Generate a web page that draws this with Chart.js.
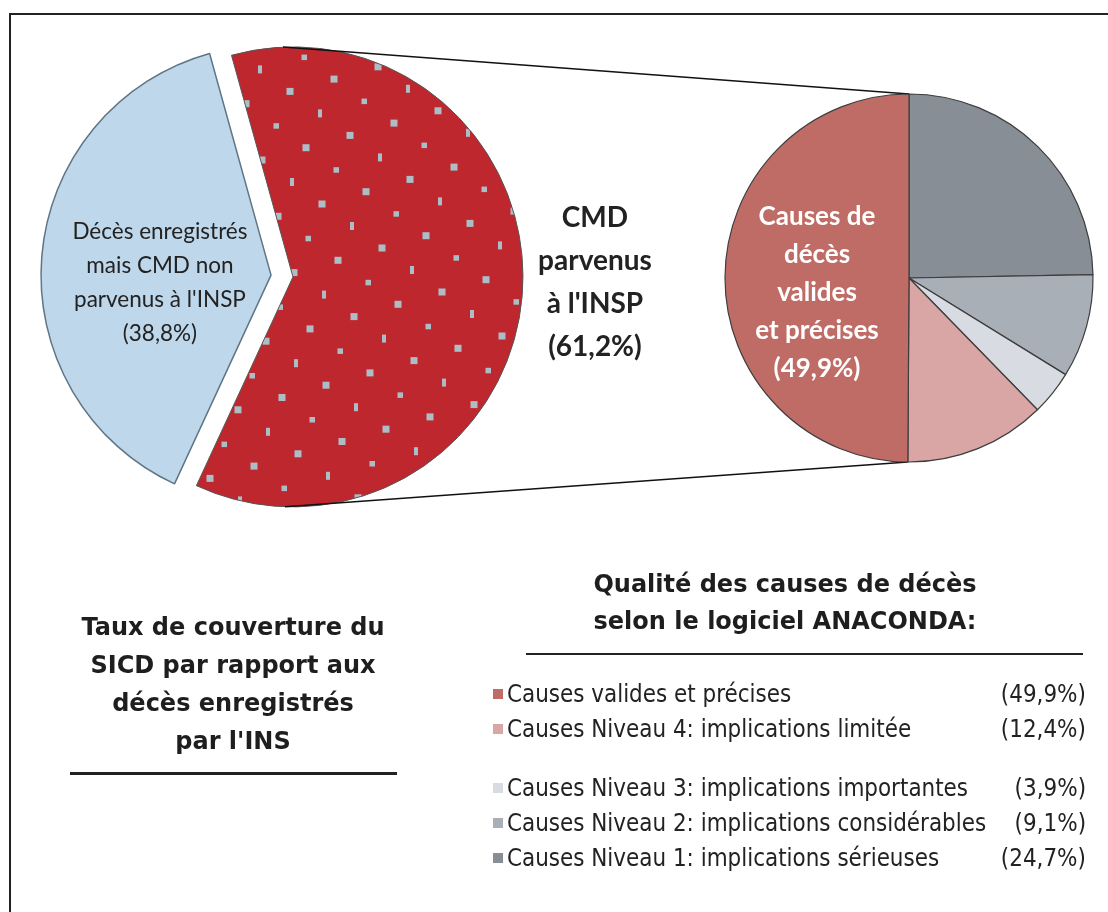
<!DOCTYPE html>
<html lang="fr">
<head>
<meta charset="utf-8">
<title>Taux de couverture du SICD et qualité des causes de décès</title>
<script src="https://cdn.jsdelivr.net/npm/chart.js@4.4.1/dist/chart.umd.min.js"></script>
<style>
  html, body { margin: 0; padding: 0; background: #fff; overflow: hidden; }
  #page { position: relative; width: 1108px; height: 912px; overflow: hidden; }
  #frame { position: absolute; left: 9px; top: 13px; width: 1200px; height: 1000px; border-top: 2px solid #222; border-left: 2px solid #222; }
  canvas { position: absolute; left: 0; top: 0; }
  .title { position: absolute; text-align: center; font-family: "DejaVu Sans"; font-weight: bold; font-size: 24px; color: #1e1e1e; white-space: nowrap; }
  #leftTitle { left: 40px; width: 386px; top: 608px; line-height: 38px; }
  #leftRule { position: absolute; left: 70px; top: 772px; width: 327px; height: 3px; background: #222; }
  #rightTitle { left: 500px; width: 570px; top: 566px; line-height: 37px; }
  #rightRule { position: absolute; left: 526px; top: 653px; width: 557px; height: 2px; background: #222; }
  #legend { position: absolute; left: 490px; top: 676px; width: 596px; font-family: "DejaVu Sans"; font-size: 25px; color: #222; }
  .row { position: relative; height: 35px; line-height: 35px; }
  .row.gap { margin-top: 24px; }
  .sw { position: absolute; left: 3px; top: 13px; width: 10px; height: 10px; }
  .lab { position: absolute; left: 17px; top: 0; white-space: nowrap; transform: scaleX(0.86); transform-origin: left center; }
  .val { position: absolute; right: 0; top: 0; white-space: nowrap; transform: scaleX(0.86); transform-origin: right center; }
</style>
</head>
<body>
<div id="page">
  <div id="frame"></div>
  <canvas id="coverage" width="1108" height="912"></canvas>
  <canvas id="quality" width="1108" height="912"></canvas>
  <div id="leftTitle" class="title">Taux de couverture du<br>SICD par rapport aux<br>décès enregistrés<br>par l'INS</div>
  <div id="leftRule"></div>
  <div id="rightTitle" class="title">Qualité des causes de décès<br>selon le logiciel ANACONDA:</div>
  <div id="rightRule"></div>
  <div id="legend"></div>
</div>
<script>
// couverture du SICD (camembert de gauche)
const coverageLabels = ["CMD parvenus à l'INSP", "Décès enregistrés mais CMD non parvenus à l'INSP"];
const coverageValues = [61.2, 38.8];
const coverageLines = [['CMD', 'parvenus', "à l'INSP"], ['Décès enregistrés', 'mais CMD non', "parvenus à l'INSP"]];

// qualité des causes (camembert de droite), dans le sens horaire depuis midi
const qualityLabels = [
  'Causes Niveau 1: implications sérieuses',
  'Causes Niveau 2: implications considérables',
  'Causes Niveau 3: implications importantes',
  'Causes Niveau 4: implications limitée',
  'Causes valides et précises'
];
const qualityValues = [24.7, 9.1, 3.9, 12.4, 49.9];
const qualityColors = ['#878e96', '#a8afb7', '#d8dce2', '#d9a5a5', '#c06c66'];
const validLines = ['Causes de', 'décès', 'valides', 'et précises'];
const legendOrder = [4, 3, 2, 1, 0];

const fmt = v => '(' + v.toFixed(1).replace('.', ',') + '%)';

// fond rouge avec petits points gris
function dotPattern() {
  const c = document.createElement('canvas');
  c.width = 640; c.height = 640;
  const g = c.getContext('2d');
  g.fillStyle = '#be272e';
  g.fillRect(0, 0, 640, 640);
  g.fillStyle = '#abbec6';
  for (let i = -30; i <= 30; i++) {
    for (let j = -30; j <= 30; j++) {
      const x = 322 + i * 44 + j * 30, y = 204 - i * 12.3 + j * 22;
      if (x < -10 || x > 650 || y < -10 || y > 650) continue;
      if (j % 2 === 0) g.fillRect(x - 3.5, y - 3.5, 7, 7);
      else if (i % 2 === 0) g.fillRect(x - 2, y - 4, 4, 8);
      else g.fillRect(x - 2.5, y - 2.5, 5.5, 5.5);
    }
  }
  return g.createPattern(c, 'repeat');
}

// écarte les parts du centre
const explode = {
  id: 'explode',
  afterDatasetUpdate(chart, args, opts) {
    const d = opts.distance || 0;
    if (!d) return;
    args.meta.data.forEach(arc => {
      const mid = (arc.startAngle + arc.endAngle) / 2;
      arc.x += Math.cos(mid) * d;
      arc.y += Math.sin(mid) * d;
    });
  }
};

const sliceText = {
  id: 'sliceText',
  afterDatasetsDraw(chart, args, opts) {
    const arcs = chart.getDatasetMeta(0).data;
    const ctx = chart.ctx;
    ctx.save();
    ctx.textAlign = 'center';
    ctx.textBaseline = 'middle';
    (opts.items || []).forEach(it => {
      const arc = arcs[it.index];
      const lines = it.lines.concat(fmt(chart.data.datasets[0].data[it.index]));
      const cx = arc.x + it.dx * arc.outerRadius;
      const cy = arc.y + it.dy * arc.outerRadius;
      ctx.font = it.font;
      ctx.fillStyle = it.color;
      const y0 = cy - (lines.length - 1) * it.lineHeight / 2;
      lines.forEach((t, k) => ctx.fillText(t, cx, y0 + k * it.lineHeight));
    });
    ctx.restore();
  }
};

const leftChart = new Chart(document.getElementById('coverage'), {
  type: 'pie',
  data: {
    labels: coverageLabels,
    datasets: [{
      data: coverageValues,
      backgroundColor: [dotPattern(), '#bfd7ea'],
      borderColor: ['#555', '#5f7585'],
      borderWidth: [1, 1.5]
    }]
  },
  options: {
    responsive: false,
    animation: false,
    events: [],
    rotation: -15.5,
    radius: 230,
    layout: { padding: { left: 0, right: 544, top: 0, bottom: 360 } },
    plugins: {
      legend: { display: false },
      tooltip: { enabled: false },
      explode: { distance: 11 },
      sliceText: {
        items: [
          { index: 0, lines: coverageLines[0], dx: 1.313, dy: 0.024, font: 'bold 28px Lato', color: '#222', lineHeight: 43 },
          { index: 1, lines: coverageLines[1], dx: -0.483, dy: 0.032, font: '22.5px Lato', color: '#222', lineHeight: 34 }
        ]
      }
    }
  },
  plugins: [explode, sliceText]
});

// lignes reliant la part rouge au second camembert
const connectors = {
  id: 'connectors',
  beforeDatasetsDraw(chart) {
    const red = leftChart.getDatasetMeta(0).data[0];
    const arcs = chart.getDatasetMeta(0).data;
    const first = arcs[0], last = arcs[arcs.length - 1];
    const deg = Math.PI / 180;
    const at = (arc, a, r) => [arc.x + Math.cos(a) * r, arc.y + Math.sin(a) * r];
    const segs = [
      [at(red, -92.5 * deg, red.outerRadius), at(first, first.startAngle, first.outerRadius)],
      [at(red, 92 * deg, red.outerRadius), at(last, last.startAngle, last.outerRadius)]
    ];
    const ctx = chart.ctx;
    ctx.save();
    ctx.strokeStyle = '#111';
    ctx.lineWidth = 1.5;
    segs.forEach(([a, b]) => {
      ctx.beginPath();
      ctx.moveTo(a[0], a[1]);
      ctx.lineTo(b[0], b[1]);
      ctx.stroke();
    });
    ctx.restore();
  }
};

new Chart(document.getElementById('quality'), {
  type: 'pie',
  data: {
    labels: qualityLabels,
    datasets: [{
      data: qualityValues,
      backgroundColor: qualityColors,
      borderColor: '#3d3d3d',
      borderWidth: 1.2
    }]
  },
  options: {
    responsive: false,
    animation: false,
    events: [],
    rotation: 0,
    radius: 184,
    layout: { padding: { left: 710, right: 0, top: 0, bottom: 356 } },
    plugins: {
      legend: { display: false },
      tooltip: { enabled: false },
      sliceText: {
        items: [
          { index: 4, lines: validLines, dx: -0.5, dy: 0.079, font: 'bold 26px Lato', color: '#fff', lineHeight: 38 }
        ]
      }
    }
  },
  plugins: [connectors, sliceText]
});

// légende
const legend = document.getElementById('legend');
legendOrder.forEach((idx, k) => {
  const row = document.createElement('div');
  row.className = 'row' + (k === 2 ? ' gap' : '');
  const sw = document.createElement('span');
  sw.className = 'sw';
  sw.style.background = qualityColors[idx];
  const lab = document.createElement('span');
  lab.className = 'lab';
  lab.textContent = qualityLabels[idx];
  const val = document.createElement('span');
  val.className = 'val';
  val.textContent = fmt(qualityValues[idx]);
  row.append(sw, lab, val);
  legend.appendChild(row);
});
</script>
</body>
</html>
